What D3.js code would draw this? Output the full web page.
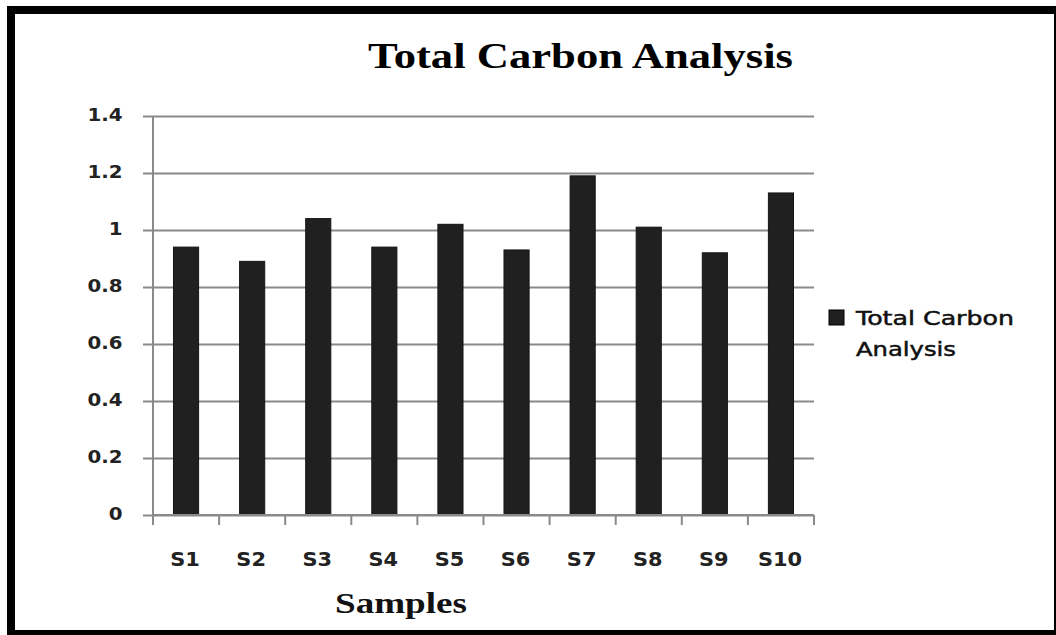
<!DOCTYPE html>
<html>
<head>
<meta charset="utf-8">
<script src="https://cdn.jsdelivr.net/npm/d3@7"></script>
<style>
  html, body { margin: 0; padding: 0; background: #fff; }
  svg { display: block; }
</style>
</head>
<body>
<svg id="chart" width="1056" height="635"></svg>
<script>
// ---- data ----
const categories = ["S1", "S2", "S3", "S4", "S5", "S6", "S7", "S8", "S9", "S10"];
const values = [0.94, 0.89, 1.04, 0.94, 1.02, 0.93, 1.19, 1.01, 0.92, 1.13];
const yTicks = [0, 0.2, 0.4, 0.6, 0.8, 1, 1.2, 1.4];
const titleText = "Total Carbon Analysis";
const xTitle = "Samples";
const legendLines = ["Total Carbon", "Analysis"];

const svg = d3.select("#chart");
const W = 1056, H = 635;

// background + frame
svg.append("rect").attr("x", 0).attr("y", 0).attr("width", W).attr("height", H).attr("fill", "#fff");
svg.append("rect").attr("x", 7).attr("y", 6).attr("width", 8).attr("height", H - 6).attr("fill", "#000");
svg.append("rect").attr("x", 7).attr("y", 6).attr("width", W - 7).attr("height", 8).attr("fill", "#000");
svg.append("rect").attr("x", W - 2).attr("y", 6).attr("width", 2).attr("height", H - 6).attr("fill", "#000");
svg.append("rect").attr("x", 7).attr("y", 630).attr("width", W - 7).attr("height", 5).attr("fill", "#000");

// plot geometry
const pLeft = 153, pRight = 814, pTop = 116, pBottom = 515;
const y = d3.scaleLinear().domain([0, 1.4]).range([pBottom, pTop]);
const x = d3.scaleBand().domain(categories).range([pLeft, pRight]).paddingInner(0.62).paddingOuter(0.31);
const step = x.step();
const sx = 1.1;

// gridlines
const grid = svg.append("g").attr("transform", `translate(${pLeft - 10},0)`)
  .call(d3.axisRight(y).tickValues(yTicks).tickSize(pRight - pLeft + 10).tickFormat(""));
grid.select(".domain").remove();
grid.selectAll("line").attr("stroke", "#8a8a8a").attr("stroke-width", 2);

// y labels
const yl = svg.append("g").attr("transform", `translate(${pLeft},0)`)
  .call(d3.axisLeft(y).tickValues(yTicks).tickSize(0).tickFormat(d => d3.format("")(d)));
yl.select(".domain").remove();
yl.selectAll("text")
  .attr("x", null).attr("dy", "0.27em")
  .attr("transform", `translate(-30.5,0) scale(${sx},1)`)
  .attr("text-anchor", "end")
  .attr("font-family", "DejaVu Sans").attr("font-weight", "bold").attr("font-size", 18).attr("fill", "#222");

// y axis line
svg.append("line").attr("x1", pLeft).attr("x2", pLeft).attr("y1", pTop).attr("y2", pBottom + 10)
  .attr("stroke", "#8a8a8a").attr("stroke-width", 2);

// bars
svg.append("g").selectAll("rect").data(values).join("rect")
  .attr("x", (d, i) => x(categories[i]))
  .attr("y", d => y(d))
  .attr("width", x.bandwidth())
  .attr("height", d => y(0) - y(d))
  .attr("fill", "#202020").attr("stroke", "#151515").attr("stroke-width", 1);

// x axis line + boundary ticks
svg.append("line").attr("x1", pLeft).attr("x2", pRight).attr("y1", pBottom).attr("y2", pBottom)
  .attr("stroke", "#8a8a8a").attr("stroke-width", 2);
const boundaries = categories.map(c => x(c) + x.bandwidth() / 2 - step / 2)
  .concat([x(categories[categories.length - 1]) + x.bandwidth() / 2 + step / 2]);
svg.append("g").selectAll("line").data(boundaries).join("line")
  .attr("x1", d => d).attr("x2", d => d).attr("y1", pBottom).attr("y2", pBottom + 10)
  .attr("stroke", "#8a8a8a").attr("stroke-width", 2);

// x labels
svg.append("g").selectAll("text").data(categories).join("text")
  .attr("transform", d => `translate(${x(d) + x.bandwidth() / 2 - 1},566) scale(${sx},1)`)
  .attr("text-anchor", "middle")
  .attr("font-family", "DejaVu Sans").attr("font-weight", "bold").attr("font-size", 19).attr("fill", "#222")
  .text(d => d);

// title
svg.append("text").attr("x", 368).attr("y", 68)
  .attr("font-family", "Liberation Serif").attr("font-weight", "bold").attr("font-size", 35)
  .attr("textLength", 425).attr("lengthAdjust", "spacingAndGlyphs").attr("fill", "#000")
  .text(titleText);

// x title
svg.append("text").attr("x", 335).attr("y", 613)
  .attr("font-family", "Liberation Serif").attr("font-weight", "bold").attr("font-size", 30)
  .attr("textLength", 132).attr("lengthAdjust", "spacingAndGlyphs").attr("fill", "#111")
  .text(xTitle);

// legend
svg.append("rect").attr("x", 829).attr("y", 310).attr("width", 15).attr("height", 15)
  .attr("fill", "#202020").attr("stroke", "#000").attr("stroke-width", 1);
const legLens = [158, 100];
svg.append("g").selectAll("text").data(legendLines).join("text")
  .attr("x", 856).attr("y", (d, i) => 325 + i * 31)
  .attr("font-family", "DejaVu Sans").attr("font-size", 20).attr("fill", "#111")
  .attr("stroke", "#111").attr("stroke-width", 0.5)
  .attr("textLength", (d, i) => legLens[i]).attr("lengthAdjust", "spacingAndGlyphs")
  .text(d => d);
</script>
</body>
</html>
